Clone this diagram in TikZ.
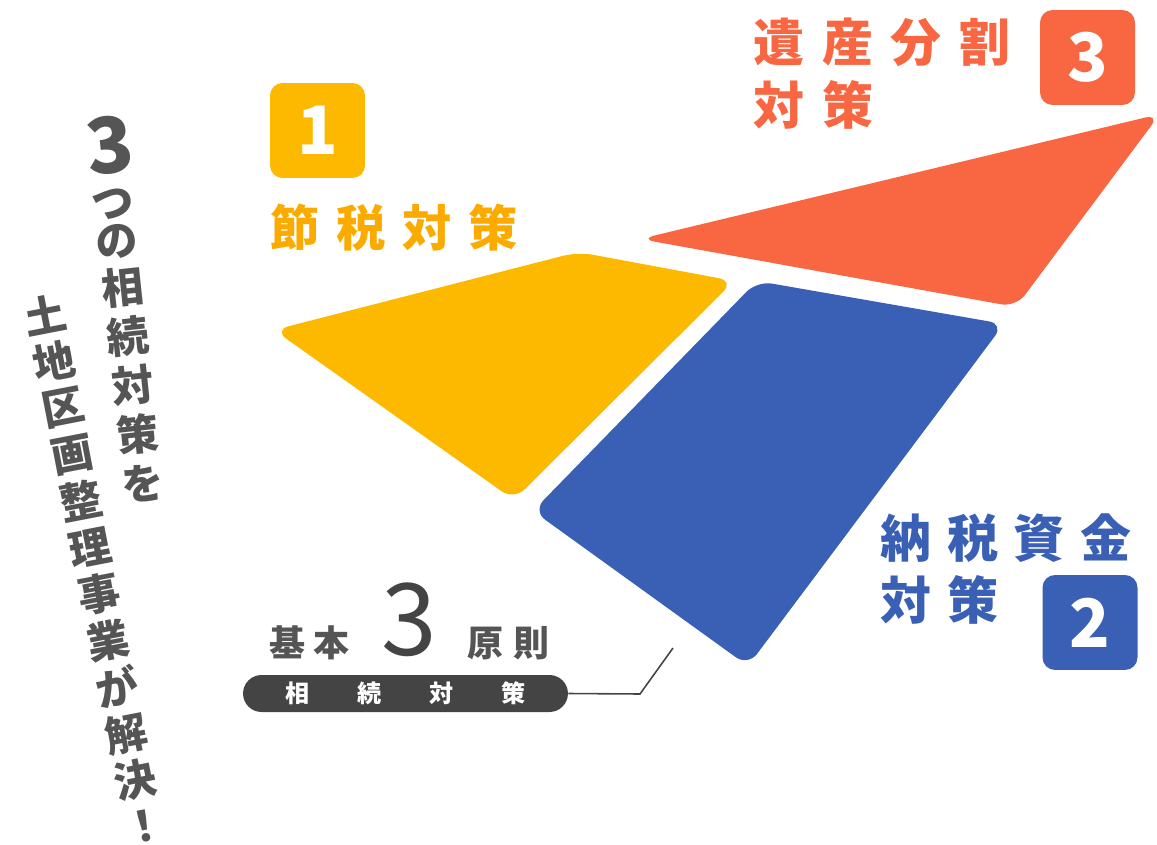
\documentclass[tikz,border=0pt]{standalone}
\usepackage{fontspec}
\newfontfamily\jp{Noto Sans CJK JP}
\definecolor{yellowA}{HTML}{FDB800}
\definecolor{yellowT}{HTML}{FBAB00}
\definecolor{redA}{HTML}{F96742}
\definecolor{blueA}{HTML}{3A60B6}
\definecolor{textgray}{HTML}{555555}
\definecolor{pillgray}{HTML}{444444}

\begin{document}
\begin{tikzpicture}[x=0.02cm,y=-0.02cm,
  piece/.style={rounded corners=0.3cm},
  badge/.style={rounded corners=0.25cm, minimum size=1.9cm, inner sep=0, text=white, font=\jp\bfseries\fontsize{38}{38}\selectfont},
  title/.style={anchor=west, inner sep=0, font=\jp\bfseries\fontsize{29}{31}\selectfont},
  vchar/.style={inner sep=0, text=textgray, font=\jp\bfseries\fontsize{24}{26}\selectfont},
  small/.style={inner sep=0, text=textgray, font=\jp\bfseries\fontsize{20.5}{22}\selectfont}]
\useasboundingbox (0,0) rectangle (1157,845);

% the three pieces
\fill[yellowA, piece] (274,330) -- (578,252) -- (734,281) -- (514,500) -- cycle;
\fill[redA, piece] (640,239) -- (1160,114) -- (1016,307) -- cycle;
\fill[blueA, piece] (757,281) -- (1004,324) -- (748,666) -- (533,511) -- cycle;

% badges
\node[badge, fill=yellowA] (one) at (317.5,130.5) {1};
\node[badge, fill=redA] (three) at (1087.5,57.5) {3};
\node[badge, fill=blueA] (two) at (1090,622.5) {2};

% titles
\node[title, text=yellowT, font=\jp\bfseries\fontsize{28}{30}\selectfont] (setsuzei) at (270,228) {節\hspace{.34em}税\hspace{.34em}対\hspace{.34em}策};
\node[title, text=redA] (isan) at (753,42) {遺\hspace{.35em}産\hspace{.35em}分\hspace{.35em}割};
\node[title, text=redA] (isan2) at (753,105) {対\hspace{.35em}策};
\node[title, text=blueA] (nozei) at (880,538) {納\hspace{.31em}税\hspace{.31em}資\hspace{.31em}金};
\node[title, text=blueA] (nozei2) at (880,600) {対\hspace{.31em}策};

% basic 3 principles
\node[small] (kihon) at (309.5,643) {基\hspace{.2em}本};
\node[inner sep=0, text=pillgray, font=\jp\fontsize{57}{57}\selectfont] (big3) at (409,620) {3};
\node[small] (gensoku) at (508.5,643) {原\hspace{.3em}則};
\node[fill=pillgray, rounded corners=0.37cm, minimum width=6.5cm, minimum height=0.74cm, inner sep=0, text=white, font=\jp\bfseries\fontsize{13.7}{15}\selectfont] (pill) at (405.5,693.5) {相\hspace{2em}続\hspace{2em}対\hspace{2em}策};
\coordinate (bend) at (640,694);
\coordinate (tip) at (673,648);
\draw[pillgray, line width=0.9pt] (pill.east) -- (bend) -- (tip);

% vertical catch copy
\node[vchar, rotate=6, font=\jp\bfseries\fontsize{44}{44}\selectfont] (three0) at (110,145) {3};
\node[vchar, rotate=6] (tsu) at (113,204) {つ};
\node[vchar, rotate=6] (no) at (117,242) {の};
\foreach \ch [count=\i from 0] in {相,続,対,策,を}
  \node[vchar, rotate=6] (lead\i) at ({123+5*\i},{287+49*\i}) {\ch};
\foreach \ch [count=\i from 0] in {土,地,区,画,整,理,事,業,が,解,決,！}
  \node[vchar, rotate=11] (land\i) at ({45+9*\i},{315+46.5*\i}) {\ch};
\end{tikzpicture}
\end{document}
